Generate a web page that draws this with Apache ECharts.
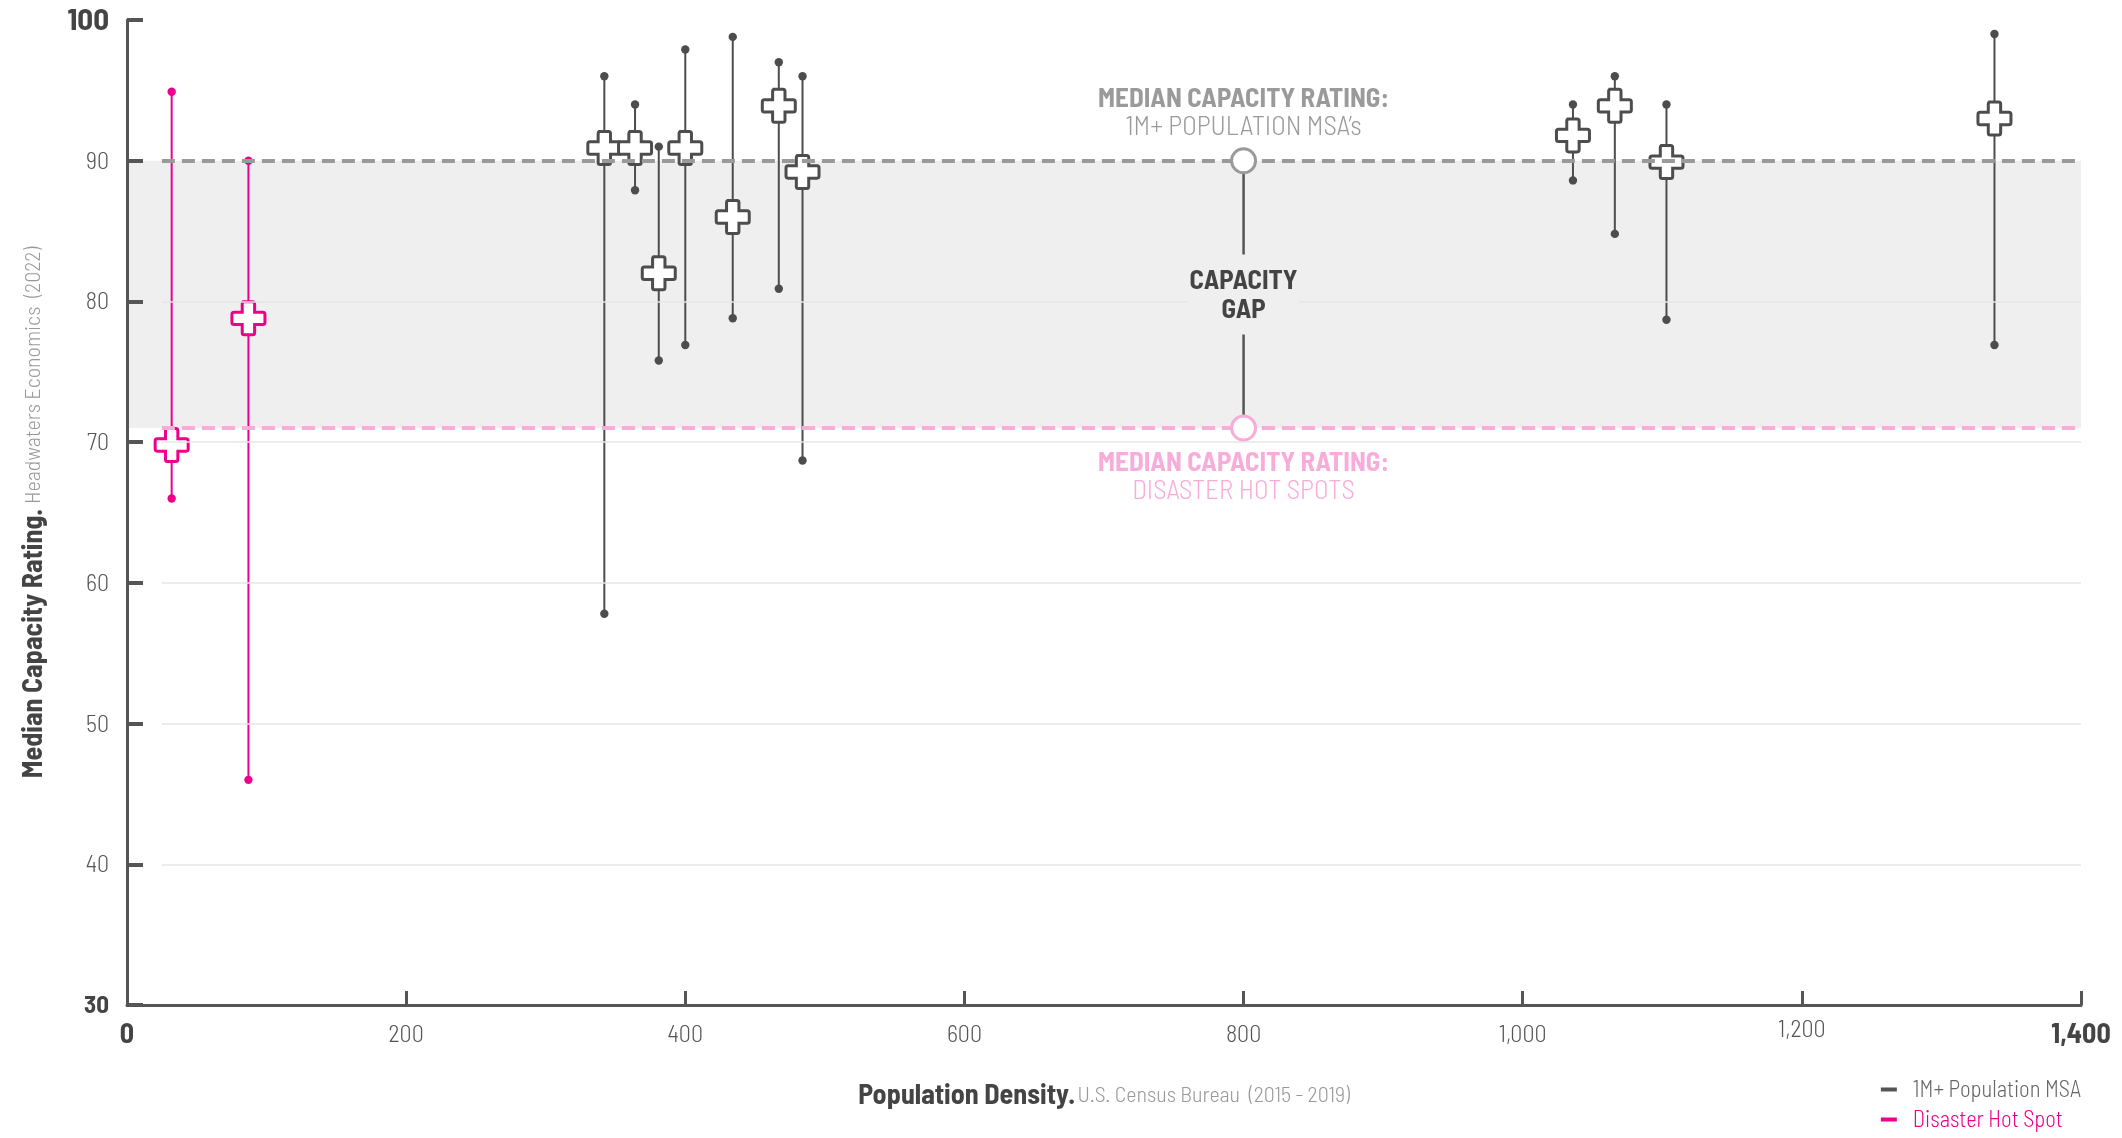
<!DOCTYPE html>
<html><head><meta charset="utf-8">
<script src="https://cdn.jsdelivr.net/npm/echarts@6/dist/echarts.min.js"></script>
<style>html,body{margin:0;padding:0;background:#fff}#c{width:2122px;height:1138px}</style>
</head><body><div id="c"></div>
<script>
// ---- data ----
const msaDensity = [342, 364, 381, 400, 434, 467, 484, 1036, 1066, 1103, 1338];
const msaMedian  = [90.9, 90.9, 82, 90.9, 86, 93.9, 89.2, 91.8, 93.9, 89.9, 93];
const msaHigh    = [96, 94, 91, 97.9, 98.8, 97, 96, 94, 96, 94, 99];
const msaLow     = [57.8, 87.9, 75.8, 76.9, 78.8, 80.9, 68.7, 88.6, 84.8, 78.7, 76.9];
const hotDensity = [32, 87];
const hotMedian  = [69.8, 78.8];
const hotHigh    = [94.9, 90];
const hotLow     = [66, 46];
const medianMSA = 90, medianHot = 71, gapX = 800;
const gridValues = [40, 50, 60, 70, 80];
const lineStartX = 25;
const yMin = 30, yMax = 100, yStep = 10;
const xMin = 0, xMax = 1400, xStep = 200;

const GRAY = '#4d4d4d', PINK = '#ec008c', PINK_L = '#f7acd9', DASH_G = '#9a9a9a';
const FONT = "'Barlow Semi Condensed','Barlow Condensed','Roboto Condensed',sans-serif";
const CROSS = 'path://M10,0H20Q22,0 22,2V10H30Q32,10 32,12V20Q32,22 30,22H22V30Q22,32 20,32H12Q10,32 10,30V22H2Q0,22 0,20V12Q0,10 2,10H10V2Q10,0 12,0Z';

function zip(a, b, c, d) { return a.map((v, i) => [v, b[i], c[i], d[i]]); }
const msaData = zip(msaDensity, msaMedian, msaLow, msaHigh);
const hotData = zip(hotDensity, hotMedian, hotLow, hotHigh);

function whisker(color) {
  return function (params, api) {
    const x = api.value(0), lo = api.value(2), hi = api.value(3);
    const p1 = api.coord([x, hi]), p2 = api.coord([x, lo]);
    return { type: 'group', children: [
      { type: 'line', shape: { x1: p1[0], y1: p1[1], x2: p2[0], y2: p2[1] }, style: { stroke: color, lineWidth: 2 } },
      { type: 'circle', shape: { cx: p1[0], cy: p1[1], r: 4.2 }, style: { fill: color } },
      { type: 'circle', shape: { cx: p2[0], cy: p2[1], r: 4.2 }, style: { fill: color } }
    ] };
  };
}

function annot(params, api) {
  const x = api.value(0);
  const pt = api.coord([x, api.value(1)]);
  const pb = api.coord([x, api.value(2)]);
  const mid = (pt[1] + pb[1]) / 2;
  const r = 12;
  const B = 'bold 27px ' + FONT, L = '300 27px ' + FONT;
  return { type: 'group', children: [
    { type: 'line', shape: { x1: pt[0], y1: pt[1] + r, x2: pb[0], y2: pb[1] - r }, style: { stroke: '#555', lineWidth: 2.5 } },
    { type: 'rect', shape: { x: pt[0] - 55, y: mid - 40, width: 110, height: 80 }, style: { fill: '#efefef' } },
    { type: 'text', style: { x: pt[0], y: mid - 14, text: 'CAPACITY', align: 'center', verticalAlign: 'middle', font: B, fill: '#444' } },
    { type: 'text', style: { x: pt[0], y: mid + 15, text: 'GAP', align: 'center', verticalAlign: 'middle', font: B, fill: '#444' } },
    { type: 'circle', shape: { cx: pt[0], cy: pt[1], r: r }, style: { fill: '#fff', stroke: DASH_G, lineWidth: 3 } },
    { type: 'circle', shape: { cx: pb[0], cy: pb[1], r: r }, style: { fill: '#fff', stroke: PINK_L, lineWidth: 3 } },
    { type: 'text', style: { x: pt[0], y: pt[1] - 63, text: 'MEDIAN CAPACITY RATING:', align: 'center', verticalAlign: 'middle', font: B, fill: DASH_G } },
    { type: 'text', style: { x: pt[0], y: pt[1] - 35, text: '1M+ POPULATION MSA\u2019s', align: 'center', verticalAlign: 'middle', font: L, fill: '#9a9a9a' } },
    { type: 'text', style: { x: pb[0], y: pb[1] + 34, text: 'MEDIAN CAPACITY RATING:', align: 'center', verticalAlign: 'middle', font: B, fill: PINK_L } },
    { type: 'text', style: { x: pb[0], y: pb[1] + 62, text: 'DISASTER HOT SPOTS', align: 'center', verticalAlign: 'middle', font: L, fill: PINK_L } }
  ] };
}

const fmtX = v => v.toLocaleString('en-US');

const chart = echarts.init(document.getElementById('c'));
chart.setOption({
  animation: false,
  backgroundColor: '#fff',
  textStyle: { fontFamily: FONT },
  grid: { left: 127, right: 41, top: 20, bottom: 133 },
  legend: {
    orient: 'vertical', right: 41, top: 1078, itemGap: 7, itemWidth: 16, itemHeight: 4, padding: 0,
    selectedMode: false, align: 'left',
    textStyle: { fontFamily: FONT, fontSize: 22.5, fontWeight: 300, padding: [0, 0, 0, 11] },
    data: [
      { name: '1M+ Population MSA', icon: 'rect', itemStyle: { color: '#555', borderWidth: 0 }, textStyle: { color: '#666' } },
      { name: 'Disaster Hot Spot', icon: 'rect', itemStyle: { color: PINK, borderWidth: 0 }, textStyle: { color: PINK } }
    ]
  },
  xAxis: {
    type: 'value', min: xMin, max: xMax, interval: xStep, z: 10,
    axisLine: { lineStyle: { color: '#555', width: 3 } },
    axisTick: { inside: true, length: 14, lineStyle: { color: '#555', width: 3 } },
    splitLine: { show: false },
    axisLabel: {
      margin: 14,
      formatter: v => (v === xMin || v === xMax) ? '{b|' + fmtX(v) + '}' : (v === 1200 ? '{h|' + fmtX(v) + '}' : '{n|' + fmtX(v) + '}'),
      rich: {
        b: { fontFamily: FONT, fontWeight: 'bold', fontSize: 28, color: '#444', lineHeight: 30 },
        n: { fontFamily: FONT, fontWeight: 300, fontSize: 24, color: '#555', lineHeight: 30 },
        h: { fontFamily: FONT, fontWeight: 300, fontSize: 24, color: '#555', lineHeight: 20 }
      }
    },
    name: '{b|Population Density.} {l|U.S. Census Bureau  (2015 - 2019)}',
    nameLocation: 'middle', nameGap: 76,
    nameTextStyle: { rich: {
      b: { fontFamily: FONT, fontWeight: 'bold', fontSize: 28, color: '#444' },
      l: { fontFamily: FONT, fontWeight: 300, fontSize: 22, color: '#999' }
    } }
  },
  yAxis: {
    type: 'value', min: yMin, max: yMax, interval: yStep, z: 10,
    axisLine: { show: true, lineStyle: { color: '#555', width: 3 } },
    axisTick: { show: true, inside: true, length: 16, lineStyle: { color: '#555', width: 4 } },
    splitLine: { show: false },
    axisLabel: {
      margin: 18,
      formatter: v => v === yMax ? '{t|' + v + '}' : (v === yMin ? '{m|' + v + '}' : '{n|' + v + '}'),
      rich: {
        t: { fontFamily: FONT, fontWeight: 'bold', fontSize: 31, color: '#444' },
        m: { fontFamily: FONT, fontWeight: 'bold', fontSize: 25, color: '#444' },
        n: { fontFamily: FONT, fontWeight: 300, fontSize: 24, color: '#555' }
      }
    },
    name: '{b|Median Capacity Rating.}  {l|Headwaters Economics  (2022)}',
    nameLocation: 'middle', nameGap: 80,
    nameTextStyle: { rich: {
      b: { fontFamily: FONT, fontWeight: 'bold', fontSize: 28, color: '#444' },
      l: { fontFamily: FONT, fontWeight: 300, fontSize: 22, color: '#999' }
    } }
  },
  series: [
    { type: 'line', data: [], z: 0, silent: true,
      markArea: { silent: true, itemStyle: { color: '#efefef' },
        data: [[{ xAxis: xMin, yAxis: medianHot }, { xAxis: xMax, yAxis: medianMSA }]] } },
    { type: 'line', data: [], z: 1, silent: true,
      markLine: { silent: true, symbol: 'none', label: { show: false },
        lineStyle: { color: '#e6e6e6', width: 1.5, type: 'solid' },
        data: gridValues.map(v => [{ coord: [lineStartX, v] }, { coord: [xMax, v] }]) } },
    { type: 'line', data: [], z: 2, silent: true,
      markLine: { silent: true, symbol: 'none', label: { show: false },
        data: [
          [{ coord: [lineStartX, medianMSA], lineStyle: { color: DASH_G, width: 4, type: [13, 7] } }, { coord: [xMax, medianMSA] }],
          [{ coord: [lineStartX, medianHot], lineStyle: { color: PINK_L, width: 4, type: [13, 7] } }, { coord: [xMax, medianHot] }]
        ] } },
    { name: '1M+ Population MSA', type: 'custom', z: 3, renderItem: whisker(GRAY), data: msaData, encode: { x: 0, y: [2, 3] } },
    { name: 'Disaster Hot Spot', type: 'custom', z: 3, renderItem: whisker(PINK), data: hotData, encode: { x: 0, y: [2, 3] } },
    { name: '1M+ Population MSA', type: 'scatter', z: 4, symbol: CROSS, symbolSize: 33,
      itemStyle: { color: '#fff', borderColor: GRAY, borderWidth: 3, opacity: 1 },
      data: msaDensity.map((x, i) => [x, msaMedian[i]]) },
    { name: 'Disaster Hot Spot', type: 'scatter', z: 4, symbol: CROSS, symbolSize: 33,
      itemStyle: { color: '#fff', borderColor: PINK, borderWidth: 3, opacity: 1 },
      data: hotDensity.map((x, i) => [x, hotMedian[i]]) },
    { type: 'custom', z: 5, renderItem: annot, data: [[gapX, medianMSA, medianHot]], encode: { x: 0, y: [1, 2] } }
  ]
});
</script></body></html>
